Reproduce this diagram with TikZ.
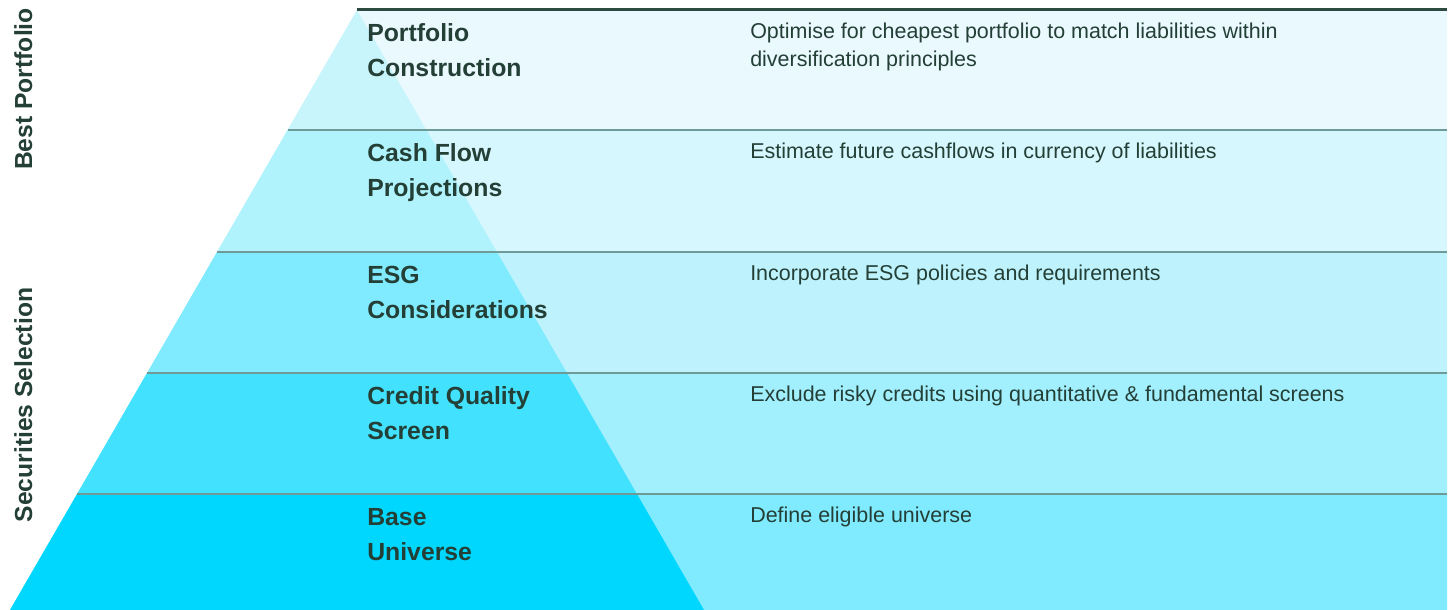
\documentclass[tikz,border=0pt]{standalone}
\usepackage{fontspec}
\setmainfont{Liberation Sans}
\usetikzlibrary{calc}

\definecolor{ink}{HTML}{243F36}
\definecolor{topline}{HTML}{2C4A3F}
\definecolor{sepline}{HTML}{6E9B98}
% band colours: outside / inside the pyramid
\definecolor{out1}{HTML}{E9F9FE}\definecolor{in1}{HTML}{C8F5FC}
\definecolor{out2}{HTML}{D6F7FE}\definecolor{in2}{HTML}{B1F3FD}
\definecolor{out3}{HTML}{BEF3FD}\definecolor{in3}{HTML}{80EBFE}
\definecolor{out4}{HTML}{A2EFFE}\definecolor{in4}{HTML}{42E2FF}
\definecolor{out5}{HTML}{80EAFF}\definecolor{in5}{HTML}{00D7FF}

\begin{document}
\begin{tikzpicture}[x=0.75pt,y=0.75pt,
  % multi-line nodes sit on the baseline of their last line
  stage/.style={anchor=base west, inner sep=0pt, align=left,
    font=\bfseries\fontsize{18.6}{26.25}\selectfont, text=ink},
  note/.style={anchor=base west, inner sep=0pt, align=left,
    font=\fontsize{16.1}{21}\selectfont, text=ink},
  side/.style={anchor=base, rotate=90, inner sep=0pt,
    font=\bfseries\fontsize{18.5}{20}\selectfont, text=ink},
  sep/.style={draw=sepline, line width=1.5pt},
  toprule/.style={draw=topline, line width=2.25pt},
]
\useasboundingbox (0,0) rectangle (1454,610);

% pyramid corners and right end of the bands
\coordinate (apex) at (357,600);
\coordinate (bl) at (10,0);
\coordinate (br) at (704,0);
\coordinate (edge) at (1447,0);

% band boundaries on the two pyramid sides
\foreach \k/\f in {0/0,1/0.2,2/0.4033,3/0.605,4/0.8067,5/1}{
  \coordinate (L\k) at ($(apex)!\f!(bl)$);
  \coordinate (R\k) at ($(apex)!\f!(br)$);
}

% bands and the pyramid slice in each band
\foreach \k/\j in {1/0,2/1,3/2,4/3,5/4}{
  \fill[out\k] (L\k) -- (L\k -| edge) -- (L\j -| edge) -- (L\j) -- cycle;
  \fill[in\k] (L\k) -- (R\k) -- (R\j) -- (L\j) -- cycle;
}

% separating rules
\foreach \k in {1,2,3,4}{
  \draw[sep] (L\k) -- (L\k -| edge);
}
\draw[toprule] (apex) -- (apex -| edge);

% stage names
\node[stage] (s1) at (367,533) {Portfolio\\Construction};
\node[stage] (s2) at (367,413) {Cash Flow\\Projections};
\node[stage] (s3) at (367,291) {ESG\\Considerations};
\node[stage] (s4) at (367,170) {Credit Quality\\Screen};
\node[stage] (s5) at (367,49)  {Base\\Universe};

% descriptions
\node[note] (n1) at (750,543) {Optimise for cheapest portfolio to match liabilities within\\diversification principles};
\node[note] (n2) at (750,451) {Estimate future cashflows in currency of liabilities};
\node[note] (n3) at (750,329) {Incorporate ESG policies and requirements};
\node[note] (n4) at (750,208) {Exclude risky credits using quantitative \& fundamental screens};
\node[note] (n5) at (750,87)  {Define eligible universe};

% side labels
\node[side] (best) at (32,521) {Best Portfolio};
\node[side] (secsel) at (32,205) {Securities Selection};
\end{tikzpicture}
\end{document}
